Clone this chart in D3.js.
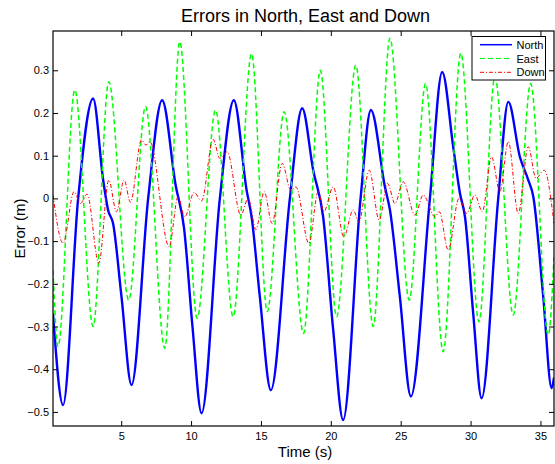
<!DOCTYPE html>
<html lang="en">
<head>
    <meta charset="UTF-8">
    <title>Errors in North, East and Down</title>
    <script src="https://cdn.jsdelivr.net/npm/d3@7"></script>
    <style>
        body { margin: 0; background: #fff; }
        text { font-family: "Liberation Sans", Arial, Helvetica, sans-serif; fill: #000; }
    </style>
</head>
<body>
<div id="myDiv"></div>

<script>

    // Turning points (time in s, error in m)
    const northT = [0.12, 0.84, 1.92, 2.99, 3.71, 4.06, 4.42, 5.02, 5.74, 6.93, 7.93, 8.9, 9.5, 10.1, 10.75,
        12.06, 13.06, 13.97, 14.33, 14.92, 15.71, 17.07, 17.95, 18.74, 19.45, 20.17, 20.88, 22.13, 22.87,
        23.87, 24.23, 24.94, 25.73, 27.09, 27.97, 28.76, 29.24, 29.6, 30.19, 30.79, 31.98, 32.7, 33.53,
        34.13, 34.49, 35.2, 35.8, 35.97];
    const northV = [-0.27, -0.484, 0, 0.234, 0.043, -0.027, -0.059, -0.23, -0.437, 0, 0.23, 0.03, -0.07, -0.3, -0.503,
        0, 0.23, 0.02, -0.043, -0.23, -0.449, 0, 0.211, 0.066, -0.043, -0.308, -0.519, 0, 0.207,
        0.027, -0.027, -0.23, -0.464, 0, 0.296, 0.12, 0.012, -0.043, -0.27, -0.468, 0, 0.226, 0.097,
        0.043, 0.004, -0.23, -0.444, -0.42];

    const eastT = [0.12, 0.48, 1.68, 2.99, 4.11, 5.54, 6.74, 8.12, 9.19, 10.43, 11.75, 13.01, 14.33, 15.45,
        16.66, 18.05, 19.25, 20.41, 21.79, 23.03, 24.23, 25.61, 26.78, 28.04, 29.3, 30.6, 31.74, 33.05,
        34.3, 35.56, 35.97];
    const eastV = [-0.168, -0.347, 0.254, -0.30, 0.273, -0.238, 0.215, -0.351, 0.367, -0.281, 0.207, -0.277, 0.339, -0.265,
        0.203, -0.316, 0.30, -0.277, 0.312, -0.30, 0.375, -0.238, 0.269, -0.359, 0.34, -0.289, 0.285, -0.273,
        0.269, -0.32, -0.137];

    const downT = [0.12, 0.84, 1.63, 2.08, 2.56, 3.40, 4.11, 4.66, 5.21, 5.66, 6.45, 6.76, 7.05, 8.43, 9.07,
        9.55, 10.22, 10.75, 11.58, 12.06, 12.58, 13.56, 14.09, 14.64, 15.23, 15.80, 16.52, 17.14, 17.50,
        18.43, 19.10, 19.50, 20.17, 20.93, 21.60, 22.01, 22.75, 23.46, 24.06, 24.59, 25.18, 26.02, 26.61,
        27.45, 27.76, 28.40, 29.17, 29.72, 30.31, 30.84, 31.5, 32.10, 32.70, 33.41, 34.13, 34.68, 35.27, 35.97];
    const downV = [0.008, -0.105, 0.016, -0.012, 0.010, -0.152, 0.043, -0.031, 0.043, -0.009, 0.137, 0.125, 0.133, -0.113, 0.004,
        -0.043, 0.014, -0.006, 0.138, 0.094, 0.109, -0.039, 0, -0.073, 0.016, -0.059, 0.082, 0.019, 0.027,
        -0.105, 0.016, -0.031, 0.027, -0.090, -0.027, -0.055, 0.066, -0.051, 0.035, -0.012, 0.039, -0.039, 0.008,
        -0.043, -0.031, -0.121, 0, -0.035, 0.008, -0.031, 0.097, 0.016, 0.133, -0.035, 0.121, 0.047, 0.066, -0.059];

    const xTicks = [5, 10, 15, 20, 25, 30, 35];
    const yTicks = [-0.5, -0.4, -0.3, -0.2, -0.1, 0, 0.1, 0.2, 0.3];
    const seriesNames = ["North", "East", "Down"];

    const width = 555, height = 464;
    const plotLeft = 53, plotRight = 554, plotTop = 31, plotBottom = 426;

    const x = d3.scaleLinear().domain([0.12, 35.97]).range([plotLeft, plotRight]);
    const y = d3.scaleLinear().domain([-0.533, 0.392]).range([plotBottom, plotTop]);

    const svg = d3.select("#myDiv").append("svg")
        .attr("width", width)
        .attr("height", height);

    svg.append("defs").append("clipPath").attr("id", "plotClip")
        .append("rect")
        .attr("x", plotLeft).attr("y", plotTop)
        .attr("width", plotRight - plotLeft).attr("height", plotBottom - plotTop);

    // Series
    const series = [
        {t: northT, v: northV, color: "#0000ff", dash: null, w: 2.4},
        {t: eastT, v: eastV, color: "#00ff00", dash: "5,3", w: 1.5},
        {t: downT, v: downV, color: "#ff0000", dash: "4,2,1,2", w: 1}
    ];

    const line = d3.line()
        .x(function(d) { return x(d[0]); })
        .y(function(d) { return y(d[1]); })
        .curve(d3.curveMonotoneX);

    const plot = svg.append("g").attr("clip-path", "url(#plotClip)");
    series.forEach(function(s) {
        plot.append("path")
            .datum(d3.zip(s.t, s.v))
            .attr("fill", "none")
            .attr("stroke", s.color)
            .attr("stroke-width", s.w)
            .attr("stroke-dasharray", s.dash)
            .attr("stroke-linejoin", "round")
            .attr("d", line);
    });

    // Axes (MATLAB style ticks pointing inward)
    const fmt = function(d) { return d === 0 ? "0" : d3.format(".1f")(d); };

    svg.append("g")
        .attr("transform", "translate(0," + plotBottom + ")")
        .call(d3.axisBottom(x).tickValues(xTicks).tickSize(-5).tickSizeOuter(0).tickPadding(6))
        .call(function(g) { g.select(".domain").remove(); });

    svg.append("g")
        .attr("transform", "translate(0," + plotTop + ")")
        .call(d3.axisTop(x).tickValues(xTicks).tickSize(-5).tickSizeOuter(0).tickFormat(""))
        .call(function(g) { g.select(".domain").remove(); });

    svg.append("g")
        .attr("transform", "translate(" + plotLeft + ",0)")
        .call(d3.axisLeft(y).tickValues(yTicks).tickSize(-5).tickSizeOuter(0).tickPadding(4).tickFormat(fmt))
        .call(function(g) { g.select(".domain").remove(); });

    svg.append("g")
        .attr("transform", "translate(" + plotRight + ",0)")
        .call(d3.axisRight(y).tickValues(yTicks).tickSize(-5).tickSizeOuter(0).tickFormat(""))
        .call(function(g) { g.select(".domain").remove(); });

    svg.selectAll(".tick text")
        .attr("font-size", 11)
        .attr("font-family", "'Liberation Sans', Arial, sans-serif")
        .attr("fill", "#222");
    svg.selectAll(".tick line").attr("stroke", "#000");

    // Frame
    svg.append("rect")
        .attr("x", plotLeft).attr("y", plotTop)
        .attr("width", plotRight - plotLeft).attr("height", plotBottom - plotTop)
        .attr("fill", "none")
        .attr("stroke", "#000")
        .attr("stroke-width", 1.2);

    // Titles
    svg.append("text")
        .attr("x", 305.5)
        .attr("y", 22)
        .attr("text-anchor", "middle")
        .attr("font-size", 18)
        .text("Errors in North, East and Down");

    svg.append("text")
        .attr("x", 305)
        .attr("y", 457)
        .attr("text-anchor", "middle")
        .attr("font-size", 15)
        .text("Time (s)");

    svg.append("text")
        .attr("transform", "translate(25," + ((plotTop + plotBottom) / 2) + ") rotate(-90)")
        .attr("text-anchor", "middle")
        .attr("font-size", 15)
        .text("Error (m)");

    // Legend
    const legend = svg.append("g");
    legend.append("rect")
        .attr("x", 472).attr("y", 36.5)
        .attr("width", 73.5).attr("height", 43.5)
        .attr("fill", "#fff")
        .attr("stroke", "#000")
        .attr("stroke-width", 1);

    seriesNames.forEach(function(name, i) {
        const ly = 44.7 + i * 13.8;
        legend.append("line")
            .attr("x1", 480).attr("x2", 512)
            .attr("y1", ly).attr("y2", ly)
            .attr("stroke", series[i].color)
            .attr("stroke-width", i === 0 ? 1.5 : 1)
            .attr("stroke-dasharray", series[i].dash);
        legend.append("text")
            .attr("x", 516.5)
            .attr("y", ly + 4)
            .attr("font-size", 11)
            .text(name);
    });
</script>

</body>
</html>
